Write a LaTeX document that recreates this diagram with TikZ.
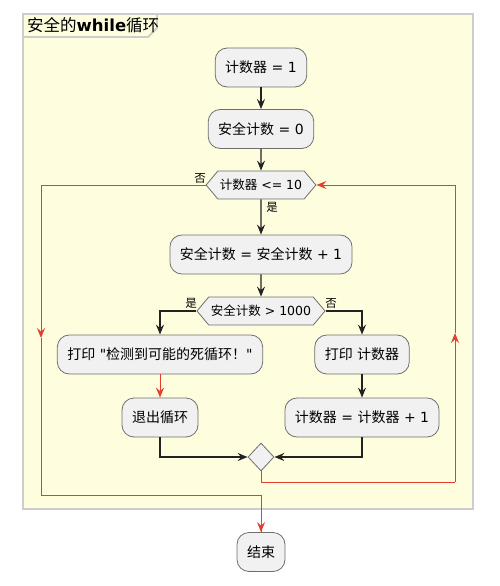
\documentclass[tikz,border=0pt]{standalone}
\usepackage{fontspec}
\setmainfont{DejaVu Sans}[Ligatures=TeXOff]
\newfontfamily\cjkfont{Noto Sans CJK SC}
\newcommand{\zhtext}[1]{{\cjkfont #1}}
\usepackage{tikz}
\usetikzlibrary{positioning,shapes.geometric,shapes.symbols,arrows.meta}

\definecolor{frameyellow}{RGB}{254,254,222}
\definecolor{framegray}{RGB}{205,205,205}
\definecolor{boxfill}{RGB}{241,241,241}
\definecolor{boxline}{RGB}{110,110,110}
\definecolor{loopred}{RGB}{230,62,46}
\definecolor{flowblack}{RGB}{34,34,34}

\begin{document}
\begin{tikzpicture}[x=1bp, y=-1bp,
        every node/.style={font=\fontsize{14bp}{17bp}\selectfont},
        action/.style={draw=boxline, fill=boxfill, rounded corners=12bp, minimum height=39bp, inner xsep=10bp, line width=0.8bp},
        choice/.style={draw=boxline, fill=boxfill, shape=signal, signal to=east and west, signal pointer angle=100, minimum height=28bp, inner xsep=2bp, inner ysep=0pt, line width=0.8bp, font=\fontsize{12.5bp}{15bp}\selectfont},
        merge/.style={draw=boxline, fill=boxfill, diamond, minimum width=26bp, minimum height=28bp, inner sep=0pt, line width=0.8bp},
        tag/.style={font=\fontsize{11.5bp}{14bp}\selectfont},
        flow/.style={draw=flowblack, line width=1.2bp, -{Stealth[length=10bp,width=8bp,inset=3.5bp]}},
        redflow/.style={draw=loopred, line width=1bp, -{Stealth[length=10bp,width=8bp,inset=3.5bp]}},
        redline/.style={draw=loopred, line width=1bp}]

        \useasboundingbox (0,0) rectangle (500,586);

        \draw[framegray, line width=1.8bp, fill=frameyellow] (23,14) rectangle (473,509);
        \draw[framegray, line width=1.8bp] (23,37) -- (148,37) -- (157,28) -- (157,14);
        \node[anchor=west, inner sep=0pt, font=\fontsize{16.5bp}{18bp}\selectfont] (title) at (27,25.5) {\zhtext{安全的}\textbf{while}\zhtext{循环}};

        \node[action] (init) at (261,67.5) {\zhtext{计数器} = 1};
        \node[action] (safe) at (261,129) {\zhtext{安全计数} = 0};
        \node[choice, minimum width=108bp] (cond) at (261,185) {\zhtext{计数器} <= 10};
        \node[action] (step) at (261,254.5) {\zhtext{安全计数} = \zhtext{安全计数} + 1};
        \node[choice, minimum width=128bp] (check) at (261,311) {\zhtext{安全计数} > 1000};
        \node[action] (warn) at (160,354.5) {\zhtext{打印} "\zhtext{检测到可能的死循环！}"};
        \node[action] (show) at (362,354.5) {\zhtext{打印} \zhtext{计数器}};
        \node[action] (quit) at (160,417.5) {\zhtext{退出循环}};
        \node[action] (incr) at (362,417.5) {\zhtext{计数器} = \zhtext{计数器} + 1};
        \node[merge] (join) at (261,457) {};
        \node[action] (stop) at (261,552) {\zhtext{结束}};

        \node[tag] (no1) at (200,178) {\zhtext{否}};
        \node[tag] (yes1) at (272,207) {\zhtext{是}};
        \node[tag] (yes2) at (191,303) {\zhtext{是}};
        \node[tag] (no2) at (331,303) {\zhtext{否}};

        \coordinate (ldown) at (41,338);
        \coordinate (lbot) at (41,495);
        \coordinate (rbot) at (455,482);
        \coordinate (rup) at (455,333);

        \draw[flow] (init) -- (safe);
        \draw[flow] (safe) -- (cond);
        \draw[flow] (cond) -- (step);
        \draw[flow] (step) -- (check);
        \draw[flow] (check.west) -| (warn.north);
        \draw[flow] (check.east) -| (show.north);
        \draw[redflow] (warn) -- (quit);
        \draw[flow] (show) -- (incr);
        \draw[flow] (quit.south) |- (join.west);
        \draw[flow] (incr.south) |- (join.east);

        \draw[redline] (join.south) |- (rbot);
        \draw[redflow] (rbot) -- (rup);
        \draw[redflow] (rup) |- (cond.east);
        \draw[redflow] (cond.west) -| (ldown);
        \draw[redline] (ldown) -- (lbot) -| (stop.north);
        \draw[redflow] (lbot -| stop.north) -- (stop.north);

    \end{tikzpicture}
\end{document}
